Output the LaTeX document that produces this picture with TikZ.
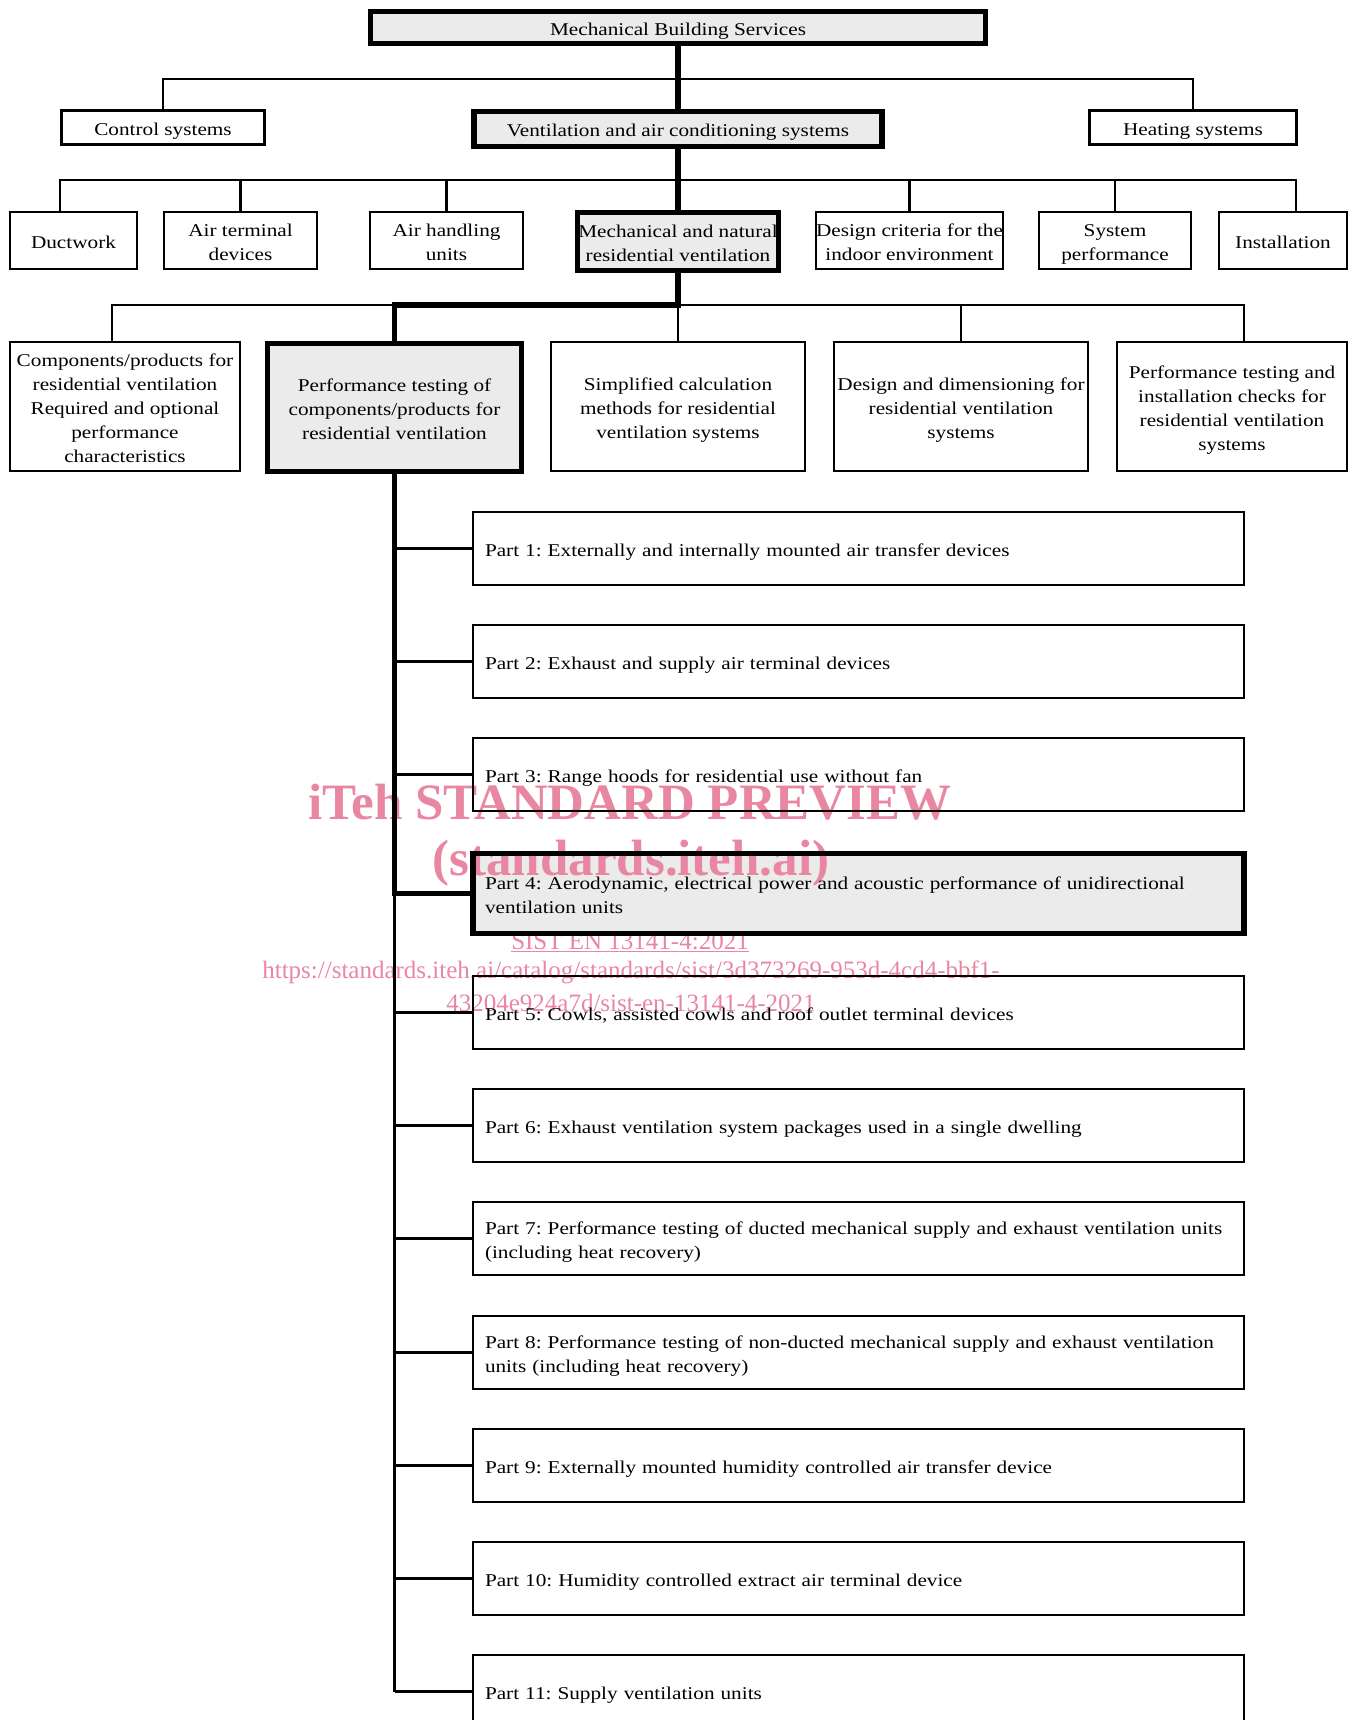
\documentclass[tikz,border=0pt]{standalone}
\usepackage{fontspec}
\setmainfont{Liberation Serif}[FakeStretch=1.18]
\newfontfamily\wmfont{Liberation Serif}
\usetikzlibrary{calc}
\pgfdeclarelayer{background}
\pgfsetlayers{background,main}
\definecolor{boxgray}{RGB}{235,235,235}
\definecolor{wmpink}{RGB}{233,135,163}
\newcommand{\topstrut}{\rule{0pt}{20.5pt}}
\newcommand{\botstrut}{\rule[-4.5pt]{0pt}{0pt}}
\frenchspacing
\begin{document}
\begin{tikzpicture}[x=1pt,y=-1pt,
  box/.style={draw, line width=2.1pt, rectangle, inner sep=0pt, align=center,
    font=\fontsize{18}{24}\selectfont\frenchspacing},
  sbox/.style={box, execute at begin node=\topstrut, execute at end node=\botstrut},
  hbox/.style={box, line width=5.5pt},
  part/.style={sbox, minimum width=771pt, minimum height=73pt, text width=747pt, align=left},
  hpart/.style={part, line width=5.5pt, minimum height=80pt},
  link/.style={line width=2.1pt},
  tlink/.style={line width=5.5pt},
  wmbig/.style={inner sep=0pt, text=wmpink, font=\wmfont\bfseries\fontsize{51}{51}\selectfont},
  wmsmall/.style={inner sep=0pt, text=wmpink, font=\wmfont\fontsize{25}{25}\selectfont}
]
\clip (0,0) rectangle (1357,1720);

% level 1-2
\node[hbox, minimum width=615pt, minimum height=32pt] (msb) at (678,27.5) {\topstrut Mechanical Building Services\botstrut};
\node[box, minimum width=203pt, minimum height=34pt] (ctl) at (163,127.5) {\topstrut Control systems\botstrut};
\node[hbox, minimum width=408pt, minimum height=35pt] (vac) at (678,129) {\topstrut Ventilation and air conditioning systems\botstrut};
\node[box, minimum width=207pt, minimum height=34pt] (heat) at (1193,127.5) {\topstrut Heating systems\botstrut};

% level 3
\node[box, minimum width=127pt, minimum height=57pt] (duct) at (73.5,240.5) {\topstrut Ductwork\botstrut};
\node[box, minimum width=153pt, minimum height=57pt] (atd) at (240.5,240.5) {\topstrut Air terminal\\devices\botstrut};
\node[box, minimum width=153pt, minimum height=57pt] (ahu) at (446.5,240.5) {\topstrut Air handling\\units\botstrut};
\node[hbox, minimum width=201pt, minimum height=58pt] (mnr) at (678,241.5) {\topstrut Mechanical and natural\\residential ventilation\botstrut};
\node[box, minimum width=187pt, minimum height=57pt] (dci) at (909.5,240.5) {\topstrut Design criteria for the\\indoor environment\botstrut};
\node[box, minimum width=152pt, minimum height=57pt] (sysp) at (1115,240.5) {\topstrut System\\performance\botstrut};
\node[box, minimum width=128pt, minimum height=57pt] (inst) at (1283,240.5) {\topstrut Installation\botstrut};

% level 4
\node[box, minimum width=230pt, minimum height=129pt] (cpr) at (125,406.5) {\topstrut Components/products for\\residential ventilation\\Required and optional\\performance\\characteristics\botstrut};
\node[hbox, minimum width=254pt, minimum height=128pt] (ptc) at (394.5,407.5) {\topstrut Performance testing of\\components/products for\\residential ventilation\botstrut};
\node[box, minimum width=254pt, minimum height=129pt] (scm) at (678,406.5) {\topstrut Simplified calculation\\methods for residential\\ventilation systems\botstrut};
\node[box, minimum width=254pt, minimum height=129pt] (ddr) at (961,406.5) {\topstrut Design and dimensioning for\\residential ventilation\\systems\botstrut};
\node[box, minimum width=230pt, minimum height=129pt] (pti) at (1232,406.5) {\topstrut Performance testing and\\installation checks for\\residential ventilation\\systems\botstrut};

% parts
\node[part] (p1) at (858.5,548.5) {Part 1: Externally and internally mounted air transfer devices};
\node[part] (p2) at (858.5,661.5) {Part 2: Exhaust and supply air terminal devices};
\node[part] (p3) at (858.5,774.5) {Part 3: Range hoods for residential use without fan};
\node[hpart] (p4) at (858.5,893.5) {Part 4: Aerodynamic, electrical power and acoustic performance of unidirectional\\ventilation units};
\node[part] (p5) at (858.5,1012.5) {Part 5: Cowls, assisted cowls and roof outlet terminal devices};
\node[part] (p6) at (858.5,1125.5) {Part 6: Exhaust ventilation system packages used in a single dwelling};
\node[part] (p7) at (858.5,1238.5) {Part 7: Performance testing of ducted mechanical supply and exhaust ventilation units\\(including heat recovery)};
\node[part] (p8) at (858.5,1352.5) {Part 8: Performance testing of non-ducted mechanical supply and exhaust ventilation\\units (including heat recovery)};
\node[part] (p9) at (858.5,1465.5) {Part 9: Externally mounted humidity controlled air transfer device};
\node[part] (p10) at (858.5,1578.5) {Part 10: Humidity controlled extract air terminal device};
\node[part] (p11) at (858.5,1691.5) {Part 11: Supply ventilation units};

% junctions
\coordinate (j1) at (678,79);
\coordinate (j2) at (678,180);
\coordinate (j3) at (678,305);

% connectors
\draw[link] (ctl.north) |- (j1) -| (heat.north);
\draw[tlink] (msb.south) -- (vac.north);
\draw[link] ([xshift=-13.5pt]duct.north) |- (j2) -| ([xshift=13pt]inst.north);
\foreach \n in {atd,ahu,dci,sysp} \draw[link] (\n.north) -- (\n.north |- j2);
\draw[tlink] (vac.south) -- (mnr.north);
\draw[link] ([xshift=-13pt]cpr.north) |- (j3) -| ([xshift=12pt]pti.north);
\draw[link] (scm.north) -- (j3);
\draw[link] (ddr.north) -- (ddr.north |- j3);
\draw[tlink] (mnr.south) -- (j3) -| (ptc.north);

\draw[link] (p4.west -| ptc.south) -- (p11.west -| ptc.south);
\foreach \n in {p1,p2,p3,p5,p6,p7,p8,p9,p10,p11} \draw[link] (\n.west) -- (\n.west -| ptc.south);
\draw[tlink] (ptc.south) |- (p4.west);

% fills and watermark behind
\begin{pgfonlayer}{background}
\foreach \n in {msb,vac,mnr,ptc,p4} \fill[boxgray] (\n.north west) rectangle (\n.south east);
\node[wmbig] (wm1) at (630,802) {iTeh STANDARD PREVIEW};
\node[wmbig] (wm2) at (631,863) {(standards.iteh.ai)};
\node[wmsmall] (wm3) at (630,942) {\underline{SIST EN 13141-4:2021}};
\node[wmsmall] (wm4) at (631,972) {https://standards.iteh.ai/catalog/standards/sist/3d373269-953d-4cd4-bbf1-};
\node[wmsmall] (wm5) at (631,1003) {43204e924a7d/sist-en-13141-4-2021};
\end{pgfonlayer}
\end{tikzpicture}
\end{document}
